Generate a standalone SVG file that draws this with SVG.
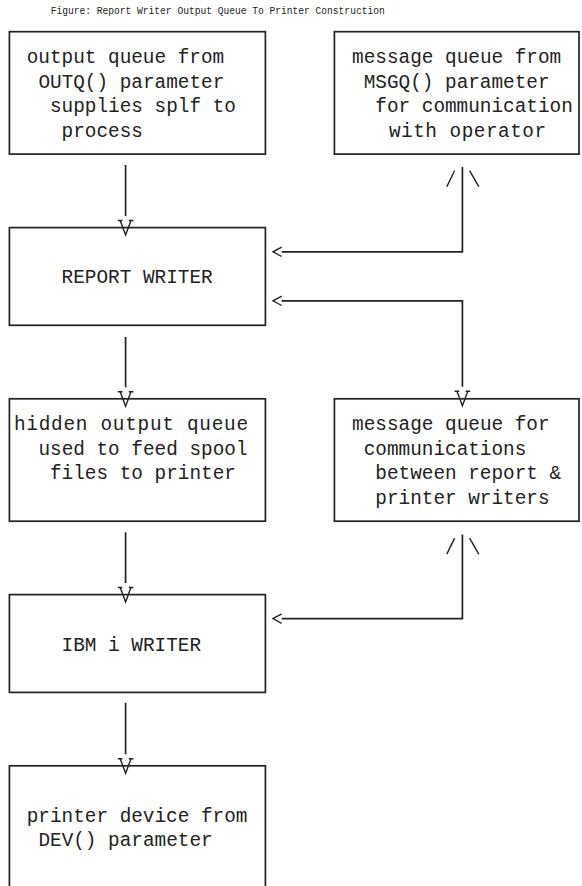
<svg xmlns="http://www.w3.org/2000/svg" width="582" height="886" viewBox="0 0 582 886">
<style>
  .bg { fill: #ffffff; }
  .box { fill: none; stroke: #222; stroke-width: 1.7; }
  .t { font-family: "Liberation Mono", "DejaVu Sans Mono", monospace; font-size: 19.37px; fill: #222; }
  .title { font-family: "Liberation Mono", "DejaVu Sans Mono", monospace; font-size: 10px; fill: #222; }
  .conn { fill: none; stroke: #222; stroke-width: 1.7; }
  .head { fill: none; stroke: #222; stroke-width: 1.4; }
</style>
<defs>
  <marker id="vhead" markerUnits="userSpaceOnUse" orient="auto-start-reverse" overflow="visible" markerWidth="1" markerHeight="1" refX="0" refY="0">
    <path class="head" d="M4.5,-5.4 L19,0 L4.5,5.4 M4.5,-7.8 L4.5,-3.2 M4.5,3.2 L4.5,7.8"/>
  </marker>
  <marker id="lthead" markerUnits="userSpaceOnUse" orient="auto-start-reverse" overflow="visible" markerWidth="1" markerHeight="1" refX="0" refY="0">
    <path class="head" d="M0,-4.7 L8.7,0 L0,4.7"/>
  </marker>
  <marker id="uphead" markerUnits="userSpaceOnUse" orient="auto-start-reverse" overflow="visible" markerWidth="1" markerHeight="1" refX="0" refY="0">
    <path class="head" d="M-3.7,-7.8 L-19.7,-15.6 M-3.7,7.2 L-19.7,16.4"/>
  </marker>
</defs>
<rect class="bg" x="0" y="0" width="582" height="886"/>

<text class="title" x="50.7" y="14" textLength="334" lengthAdjust="spacingAndGlyphs">Figure: Report Writer Output Queue To Printer Construction</text>

<g id="outq">
  <rect class="box" x="9.4" y="31.7" width="256" height="122.4"/>
  <text class="t" x="26.7" y="63.2">output queue from</text>
  <text class="t" x="38.4" y="87.6">OUTQ() parameter</text>
  <text class="t" x="50.0" y="112.1">supplies splf to</text>
  <text class="t" x="61.6" y="136.6">process</text>
</g>

<g id="msgq">
  <rect class="box" x="334.4" y="31.7" width="244.6" height="122.4"/>
  <text class="t" x="352.1" y="63.2">message queue from</text>
  <text class="t" x="363.7" y="87.6">MSGQ() parameter</text>
  <text class="t" x="375.3" y="112.1">for communication</text>
  <text class="t" x="389" y="136.6" textLength="157">with operator</text>
</g>

<g id="report-writer">
  <rect class="box" x="9.4" y="227.6" width="256" height="97.7"/>
  <text class="t" x="61.6" y="283.4">REPORT WRITER</text>
</g>

<g id="hidden-outq">
  <rect class="box" x="9.4" y="398.8" width="256" height="122.4"/>
  <text class="t" x="14" y="430.2" textLength="234">hidden output queue</text>
  <text class="t" x="38.4" y="454.7">used to feed spool</text>
  <text class="t" x="50.0" y="479.2">files to printer</text>
</g>

<g id="comm-msgq">
  <rect class="box" x="334.4" y="398.8" width="244.6" height="122.4"/>
  <text class="t" x="352.1" y="430.2">message queue for</text>
  <text class="t" x="363.7" y="454.7">communications</text>
  <text class="t" x="375.3" y="479.2">between report &amp;</text>
  <text class="t" x="375.3" y="503.6">printer writers</text>
</g>

<g id="ibmi-writer">
  <rect class="box" x="9.4" y="594.6" width="256" height="97.8"/>
  <text class="t" x="61.6" y="650.5">IBM i WRITER</text>
</g>

<g id="printer-device">
  <rect class="box" x="9.4" y="765.8" width="256" height="140"/>
  <text class="t" x="26.7" y="821.7">printer device from</text>
  <text class="t" x="38.4" y="846.2">DEV() parameter</text>
</g>

<g id="connectors">
  <path class="conn" d="M125.6,165 V216" marker-end="url(#vhead)"/>
  <path class="conn" d="M462.4,167 V251.8 H281.7" marker-start="url(#uphead)" marker-end="url(#lthead)"/>
  <path class="conn" d="M281.7,300.8 H462.4 V386.8" marker-start="url(#lthead)" marker-end="url(#vhead)"/>
  <path class="conn" d="M125.6,337 V387.3" marker-end="url(#vhead)"/>
  <path class="conn" d="M125.6,532.3 V583" marker-end="url(#vhead)"/>
  <path class="conn" d="M462.4,534.4 V618.6 H281.7" marker-start="url(#uphead)" marker-end="url(#lthead)"/>
  <path class="conn" d="M125.6,703 V754.3" marker-end="url(#vhead)"/>
</g>
</svg>
